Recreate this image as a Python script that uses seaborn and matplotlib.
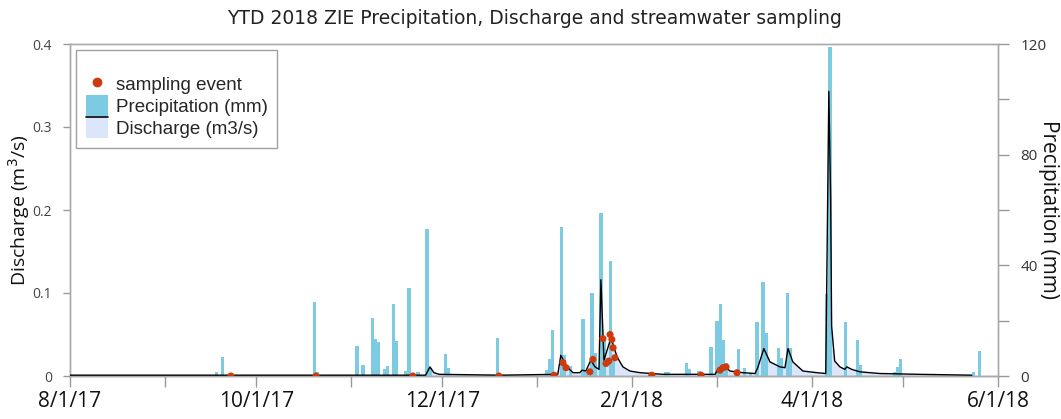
import matplotlib
matplotlib.use("Agg")
import matplotlib.pyplot as plt
import matplotlib.dates as mdates
from matplotlib.patches import Patch, Rectangle
from matplotlib.lines import Line2D
from matplotlib.legend_handler import HandlerBase
from matplotlib.ticker import FuncFormatter, MultipleLocator
import pandas as pd
import seaborn as sns

# daily precipitation (mm), right axis
precip_dates = ["2017-09-18", "2017-09-20", "2017-10-20", "2017-10-21", "2017-11-03", "2017-11-05",
                "2017-11-08", "2017-11-09", "2017-11-10", "2017-11-12", "2017-11-13", "2017-11-15",
                "2017-11-16", "2017-11-19", "2017-11-20", "2017-11-23", "2017-11-26", "2017-11-27",
                "2017-12-02", "2017-12-03", "2017-12-19", "2018-01-04", "2018-01-05", "2018-01-06",
                "2018-01-09", "2018-01-10", "2018-01-12", "2018-01-16", "2018-01-17", "2018-01-19",
                "2018-01-20", "2018-01-22", "2018-01-23", "2018-01-25", "2018-01-26", "2018-02-12",
                "2018-02-13", "2018-02-19", "2018-02-20", "2018-02-23", "2018-02-27", "2018-03-01",
                "2018-03-02", "2018-03-03", "2018-03-04", "2018-03-08", "2018-03-10", "2018-03-12",
                "2018-03-14", "2018-03-16", "2018-03-17", "2018-03-21", "2018-03-22", "2018-03-24",
                "2018-03-25", "2018-04-06", "2018-04-07", "2018-04-12", "2018-04-16",
                "2018-04-17", "2018-04-28", "2018-04-29", "2018-04-30", "2018-05-24", "2018-05-26"]
precip_mm = [1.5, 7, 26.7, 1.5, 10.8, 4, 21, 13.4, 12.2, 2.5, 3.6, 26, 12.6, 1.8, 31.8, 1.5, 53, 3,
             8, 3, 13.7, 2, 6, 16.6, 54, 7.6, 3.6, 20.6, 1.5, 30, 8.3, 59, 13, 41.5, 6.9, 1.5, 1.3,
             4.7, 2.5, 1.8, 10.5, 20, 26, 13, 4.7, 9.8, 2.9, 1, 19.5, 34, 15.6, 10, 6.5, 30, 10,
             29.6, 119, 19.5, 13, 4, 1.5, 3.2, 6, 1.5, 9]

# discharge (m3/s), left axis
q_times = ["2017-08-01 00:00", "2017-11-25 12:00", "2017-11-26 22:00", "2017-11-28 05:00", "2017-11-30 00:00",
           "2017-12-20 00:00", "2018-01-07 19:00", "2018-01-08 19:00", "2018-01-10 19:00", "2018-01-12 19:00",
           "2018-01-15 00:00", "2018-01-15 17:00", "2018-01-17 00:00", "2018-01-18 14:00", "2018-01-20 00:00",
           "2018-01-21 07:00", "2018-01-21 22:00", "2018-01-22 22:00", "2018-01-25 05:00",
           "2018-01-27 05:00", "2018-01-29 03:00", "2018-01-31 10:00", "2018-02-03 17:00",
           "2018-02-11 05:00", "2018-02-28 07:00", "2018-03-01 14:00", "2018-03-03 12:00",
           "2018-03-05 05:00", "2018-03-09 10:00", "2018-03-13 10:00", "2018-03-14 07:00",
           "2018-03-16 07:00", "2018-03-18 07:00", "2018-03-21 14:00", "2018-03-23 05:00",
           "2018-03-24 05:00", "2018-03-25 19:00", "2018-03-29 02:00", "2018-04-02 17:00",
           "2018-04-05 14:00", "2018-04-06 14:00", "2018-04-07 04:00", "2018-04-07 12:00",
           "2018-04-08 12:00", "2018-04-10 05:00", "2018-04-11 19:00", "2018-04-12 12:00",
           "2018-04-14 02:00", "2018-04-16 19:00", "2018-04-23 07:00", "2018-05-06 10:00",
           "2018-05-23 10:00"]
q_vals = [0.001, 0.001, 0.011, 0.004, 0.002, 0.001, 0.002, 0.025, 0.011, 0.004, 0.004, 0.007,
          0.006, 0.019, 0.011, 0.008, 0.116, 0.019, 0.046, 0.023, 0.011, 0.006, 0.004, 0.002,
          0.002, 0.010, 0.011, 0.006, 0.004, 0.003, 0.010, 0.033, 0.017, 0.011, 0.010, 0.033,
          0.017, 0.006, 0.004, 0.003, 0.343, 0.216, 0.060, 0.018, 0.011, 0.008, 0.011, 0.008,
          0.005, 0.003, 0.002, 0.001]

# streamwater sampling events
sample_times = ["2017-09-22 17:00", "2017-10-20 14:00", "2017-11-21 07:00", "2017-12-19 12:00",
                "2018-01-06 14:00", "2018-01-09 12:00", "2018-01-10 12:00", "2018-01-18 07:00",
                "2018-01-19 07:00", "2018-01-22 14:00", "2018-01-23 14:00", "2018-01-24 12:00",
                "2018-01-24 22:00", "2018-01-25 12:00", "2018-01-25 22:00", "2018-01-26 12:00",
                "2018-02-07 14:00", "2018-02-23 17:00", "2018-03-01 22:00", "2018-03-02 22:00",
                "2018-03-03 22:00", "2018-03-07 12:00"]
sample_q = [0.0, 0.0, 0.0, 0.0, 0.001, 0.016, 0.010, 0.005, 0.020, 0.045, 0.015, 0.018, 0.050,
            0.044, 0.034, 0.022, 0.001, 0.001, 0.007, 0.010, 0.011, 0.004]

bar_color = "#7ccbe3"
fill_color = "#dce6fa"
dot_color = "#cf3a0c"

sns.set_style("white")
plt.rcParams["font.family"] = ["Open Sans", "DejaVu Sans"]

p_dates = pd.to_datetime(precip_dates, format="%Y-%m-%d")
q_dates = pd.to_datetime(q_times, format="%Y-%m-%d %H:%M")
s_dates = pd.to_datetime(sample_times, format="%Y-%m-%d %H:%M")

fig = plt.figure(figsize=(10.61, 4.19), dpi=100)
ax = fig.add_axes([70 / 1061, 1 - 376 / 419, 928 / 1061, 332 / 419])
ax2 = ax.twinx()
ax3 = ax.twinx()

ax.fill_between(q_dates, q_vals, color=fill_color, lw=0)
ax2.bar(p_dates, precip_mm, width=1.1, color=bar_color, lw=0)
sns.lineplot(x=q_dates, y=q_vals, ax=ax3, color="black", lw=1.0, sort=False)
sns.scatterplot(x=s_dates, y=sample_q, ax=ax3, color=dot_color, s=26, edgecolor="none", zorder=5)

ax.set_xlim(pd.Timestamp("2017-08-01"), pd.Timestamp("2018-06-01"))
ax.set_ylim(0, 0.4)
ax3.set_ylim(0, 0.4)
ax2.set_ylim(0, 120)
ax3.set_axis_off()

ax.xaxis.set_major_locator(mdates.MonthLocator(bymonth=[2, 4, 6, 8, 10, 12]))
ax.xaxis.set_minor_locator(mdates.MonthLocator())
ax.xaxis.set_major_formatter(FuncFormatter(
    lambda v, p: "{}/{}/{}".format(mdates.num2date(v).month, mdates.num2date(v).day, mdates.num2date(v).year % 100)))
ax.yaxis.set_major_locator(MultipleLocator(0.1))
ax.yaxis.set_major_formatter(FuncFormatter(lambda v, p: "0" if v == 0 else f"{v:.1f}"))
ax2.yaxis.set_major_locator(MultipleLocator(40))
ax2.yaxis.set_minor_locator(MultipleLocator(20))

ax.tick_params(axis="x", which="both", direction="out", length=8, width=1, color="#999",
               labelsize=15, labelcolor="#111", pad=3, bottom=True)
ax.tick_params(axis="y", direction="out", length=5, width=1, color="#999",
               labelsize=10, labelcolor="#444", pad=8, left=True)
ax2.tick_params(axis="y", which="both", direction="out", length=8, width=1, color="#999",
                labelsize=11, labelcolor="#333", pad=8, right=True)

for a in (ax, ax2):
    for sp in a.spines.values():
        sp.set_color("#aaa")
        sp.set_linewidth(1)
ax.spines["bottom"].set_color("#777")

ax.set_ylabel("Discharge (m$^3$/s)", fontsize=14, color="#111")
ax.yaxis.set_label_coords(-0.041, 0.5)
ax2.set_ylabel("Precipitation (mm)", fontsize=15, color="#111", rotation=270, va="center")
ax2.yaxis.set_label_coords(1.054, 0.5)

fig.text(0.504, 1 - 18 / 419, "YTD 2018 ZIE Precipitation, Discharge and streamwater sampling",
         ha="center", va="center", fontsize=13.5, color="#222", family="DejaVu Sans")


class DischargeHandler(HandlerBase):
    # pale patch with the black discharge line along its top edge
    def create_artists(self, legend, orig_handle, xd, yd, w, h, fontsize, trans):
        r = Rectangle((-xd, -yd), w, h, facecolor=fill_color, edgecolor="none", transform=trans)
        ln = Line2D([-xd, w - xd], [h - yd, h - yd], color="black", lw=1.2, transform=trans)
        return [r, ln]


handles = [Line2D([], [], ls="", marker="o", color=dot_color, markersize=6),
           Patch(facecolor=bar_color, edgecolor="none"),
           Patch(facecolor=fill_color, edgecolor="none")]
labels = ["sampling event", "Precipitation (mm)", "Discharge (m3/s)"]
leg = ax3.legend(handles, labels, loc="upper left", bbox_to_anchor=(0.007, 0.982), borderaxespad=0,
                 handler_map={handles[2]: DischargeHandler()}, frameon=True, fancybox=False,
                 handlelength=1.2, handleheight=1.35, handletextpad=0.4, labelspacing=0.05,
                 borderpad=0.5, title=" ", title_fontsize=9,
                 prop={"family": "Liberation Sans", "size": 13.5})
leg.get_frame().set_edgecolor("#888")
leg.get_frame().set_linewidth(1)

fig.savefig("out.png", dpi=100)
